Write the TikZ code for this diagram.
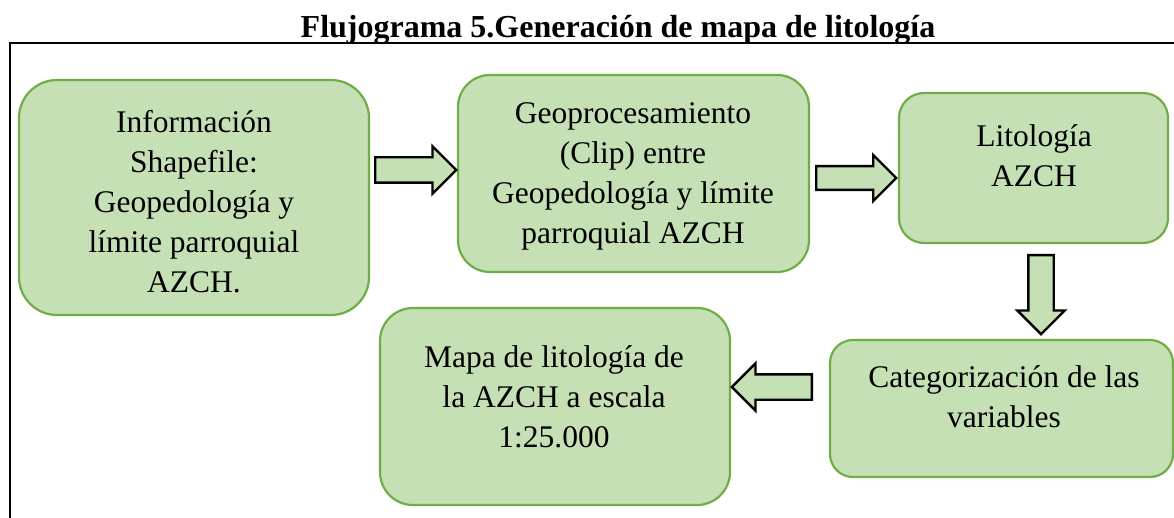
\documentclass[tikz,border=0pt]{standalone}
\usepackage{fontspec}
\setmainfont{Liberation Serif}
\usetikzlibrary{shapes.arrows}
\definecolor{boxfill}{HTML}{C5E0B4}
\definecolor{boxline}{HTML}{70AD47}
\begin{document}
\begin{tikzpicture}[x=1pt,y=-1pt,
  box/.style={draw=boxline, fill=boxfill, line width=2.2pt, inner sep=0pt},
  txt/.style={align=center, font=\fontsize{31.5}{40}\selectfont, inner sep=0pt, anchor=base},
  blockarrow/.style={single arrow, draw=black, fill=boxfill, line width=2.4pt,
    inner sep=11.5pt, single arrow head extend=11pt, minimum width=46pt, anchor=tail}]
\useasboundingbox (0,0) rectangle (1174,518);
% frame (only its top and left edges lie in the picture)
\coordinate (fl) at (10,518);
\coordinate (ft) at (10,43);
\coordinate (fr) at (1180,43);
\draw[line width=2pt] (fl) -- (ft) -- (fr);
% title
\node[anchor=base, inner sep=0pt, font=\fontsize{32}{38}\selectfont\bfseries] (title) at (618,38)
  {Flujograma 5.Generación de mapa de litología};
% boxes
\node[box, minimum width=350pt, minimum height=235pt, rounded corners=38pt] (b1) at (194,197.5) {};
\node[box, minimum width=351pt, minimum height=197pt, rounded corners=32pt] (b2) at (633.5,173.5) {};
\node[box, minimum width=269pt, minimum height=150pt, rounded corners=25pt] (b3) at (1033.5,168) {};
\node[box, minimum width=343pt, minimum height=137pt, rounded corners=23pt] (b4) at (1001.5,408.5) {};
\node[box, minimum width=350pt, minimum height=197pt, rounded corners=33pt] (b5) at (555,406.5) {};
% texts (anchored at the baseline of their last line)
\node[txt] (t1) at (194,293) {Información\\Shapefile:\\Geopedología y\\límite parroquial\\AZCH.};
\node[txt] (t2) at (633,244) {Geoprocesamiento\\(Clip) entre\\Geopedología y límite\\parroquial AZCH};
\node[txt] (t3) at (1034,187) {Litología\\AZCH};
\node[txt] (t4) at (1004,427) {Categorización de las\\variables};
\node[txt] (t5) at (554,447) {Mapa de litología de\\la AZCH a escala\\1:25.000};
% block arrows (placed by their tails)
\node[blockarrow, minimum height=81pt] (a1) at (374,170) {};
\node[blockarrow, minimum height=80pt, inner sep=10.5pt] (a2) at (815,178) {};
\node[blockarrow, minimum height=79pt, shape border rotate=270] (a3) at (1041,254) {};
\node[blockarrow, minimum height=80pt, shape border rotate=180] (a4) at (813,387) {};
\end{tikzpicture}
\end{document}
